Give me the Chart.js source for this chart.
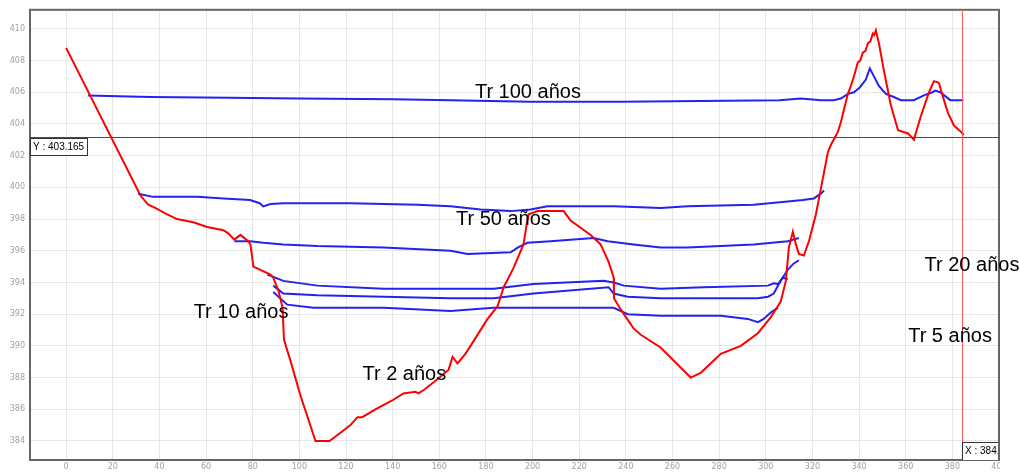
<!DOCTYPE html>
<html>
<head>
<meta charset="utf-8">
<script src="https://cdn.jsdelivr.net/npm/chart.js@4/dist/chart.umd.min.js"></script>
<style>
  body { margin: 0; background: #fff; }
</style>
</head>
<body>
<canvas id="perfil" width="1020" height="473"></canvas>
<script>
// terrain profile (red)
const terrenoX = [0, 31.8, 35.2, 38.2, 43.3, 47.6, 54.5, 60.5, 67.4, 69.5, 72.1, 74.7, 78.1, 79, 80.3, 87.6, 88.8, 91, 92.8, 93.4, 96.1, 100.4, 106.9, 112.9, 117.5, 121.9, 124.9, 127, 132.6, 137.8, 140.3, 144.6, 149.8, 151, 153.2, 158.4, 164, 165.7, 167.8, 171.2, 174.7, 180.7, 185, 187.6, 191.8, 196.1, 197.4, 198.3, 202.1, 213.3, 216.3, 224.9, 229.2, 232.6, 234.8, 234.9, 237.8, 243.3, 246.4, 254.9, 267.8, 272.1, 280.7, 289.3, 296.6, 302.1, 306.4, 308.6, 309.9, 311.6, 312.9, 314.2, 316.3, 318.5, 321.5, 323.6, 326.6, 328, 330.9, 332.2, 333.5, 335.2, 336.5, 338, 339.5, 340.5, 341.6, 342.7, 343.8, 344.8, 345.9, 346.5, 347.2, 348.5, 350.6, 353.6, 356.7, 361, 363.5, 366.5, 370, 372.1, 374.2, 376.4, 378.1, 380.7, 383.7, 384.9];
const terrenoY = [408.8, 399.5, 398.9, 398.7, 398.3, 398.0, 397.8, 397.5, 397.3, 397.1, 396.7, 397.0, 396.6, 396.4, 395.0, 394.5, 394.3, 393.5, 392.4, 390.4, 389.1, 386.9, 384.0, 384.0, 384.5, 385.0, 385.5, 385.5, 386.0, 386.4, 386.6, 387.0, 387.1, 387.0, 387.2, 387.8, 388.5, 389.3, 388.9, 389.5, 390.3, 391.7, 392.5, 393.7, 394.9, 396.4, 397.6, 398.3, 398.5, 398.5, 397.9, 397.0, 396.4, 395.3, 394.3, 393.0, 392.3, 391.1, 390.7, 389.9, 388.0, 388.3, 389.5, 390.0, 390.8, 391.8, 392.8, 394.1, 396.2, 397.2, 396.4, 395.8, 395.7, 396.6, 398.3, 399.9, 402.2, 402.7, 403.5, 404.1, 404.9, 405.9, 406.4, 407.1, 407.9, 408.0, 408.5, 408.6, 409.1, 409.2, 409.7, 409.6, 409.9, 409.1, 407.4, 405.2, 403.6, 403.4, 403.0, 404.5, 406.0, 406.7, 406.6, 405.5, 404.7, 403.9, 403.5, 403.3];

// water levels per return period (blue)
const tr100X = [9.4, 36, 70, 100, 140, 165, 199, 238, 272, 306, 315, 323.6, 329.1, 332.2, 335.2, 337.8, 340.3, 342.9, 344.6, 346.4, 348.5, 351.5, 354.9, 357.9, 363.5, 367.8, 371.5, 372.7, 374.8, 379.1, 384.7];
const tr100Y = [405.8, 405.7, 405.65, 405.6, 405.55, 405.5, 405.4, 405.4, 405.45, 405.5, 405.6, 405.5, 405.5, 405.6, 405.9, 406.0, 406.3, 406.8, 407.5, 407.0, 406.4, 405.9, 405.7, 405.5, 405.5, 405.8, 406.0, 406.1, 406.0, 405.5, 405.5];

const tr50X = [30.9, 37.3, 56.2, 67.4, 78.9, 83, 84.5, 87.6, 93.1, 113.3, 121.9, 150.6, 164.8, 177.7, 190.6, 199.1, 206.4, 215, 234.8, 254.9, 266.5, 294.8, 309.4, 315.9, 320.6, 323.6, 325];
const tr50Y = [399.6, 399.4, 399.4, 399.3, 399.2, 399.0, 398.8, 398.95, 399.0, 399.0, 399.0, 398.9, 398.8, 398.6, 398.5, 398.6, 398.8, 398.8, 398.8, 398.7, 398.8, 398.9, 399.1, 399.2, 399.3, 399.6, 399.8];

const tr20X = [72.1, 78.9, 84.5, 93.1, 107.7, 136.1, 164.8, 172.1, 190.6, 193.6, 197.8, 207.7, 226.2, 232.2, 243.3, 254.9, 266.5, 294.8, 309.4, 314.2];
const tr20Y = [396.6, 396.6, 396.5, 396.4, 396.3, 396.2, 396.0, 395.8, 395.9, 396.2, 396.5, 396.6, 396.8, 396.6, 396.4, 396.2, 396.2, 396.4, 396.6, 396.8];

const tr10X = [86.3, 93.1, 107.7, 136.1, 164.8, 183.3, 200.4, 230.5, 234.8, 239.1, 254.9, 273.4, 300.9, 303.4, 305.2, 307.3, 309.4];
const tr10Y = [394.5, 394.1, 393.8, 393.6, 393.6, 393.6, 393.9, 394.1, 394.0, 393.8, 393.6, 393.7, 393.8, 393.95, 393.9, 394.3, 394.2];

const tr5X = [88.8, 93.1, 107.7, 136.1, 164.8, 183.3, 200.4, 232.6, 234.8, 240.8, 254.9, 296.6, 301, 303.4, 306.4, 309.4, 312, 314.2];
const tr5Y = [393.8, 393.3, 393.2, 393.1, 393.0, 393.0, 393.3, 393.7, 393.3, 393.1, 393.0, 393.0, 393.1, 393.3, 394.1, 394.8, 395.2, 395.4];

const tr2X = [88.8, 94.8, 106, 136.1, 164.8, 183.3, 234.8, 240.8, 254.9, 280.7, 292.3, 296.6, 299.1, 302.1, 305.2];
const tr2Y = [393.4, 392.6, 392.4, 392.4, 392.2, 392.4, 392.4, 392.0, 391.9, 391.9, 391.7, 391.5, 391.7, 392.1, 392.4];

const xTicks = [0, 20, 40, 60, 80, 100, 120, 140, 160, 180, 200, 220, 240, 260, 280, 300, 320, 340, 360, 380, 400];
const yTicks = [384, 386, 388, 390, 392, 394, 396, 398, 400, 402, 404, 406, 408, 410];

// cursor readout
const cursorX = 384.3;
const cursorY = 403.165;

const pts = (xs, ys) => xs.map((x, i) => ({ x: x, y: ys[i] }));

const blue = '#2222f2';
const serie = (label, xs, ys, color) => ({
  label: label,
  data: pts(xs, ys),
  borderColor: color,
  borderWidth: 2,
  pointRadius: 0,
  tension: 0,
  fill: false
});

// draws frame, cursor lines and the Tr labels
const overlay = {
  id: 'overlay',
  afterDraw(chart) {
    const ctx = chart.ctx;
    const a = chart.chartArea;
    const xs = chart.scales.x, ys = chart.scales.y;
    const cx = Math.round(xs.getPixelForValue(cursorX));
    const cy = Math.round(ys.getPixelForValue(cursorY));

    ctx.save();
    // original plot was cut at its right edge
    ctx.fillStyle = '#ffffff';
    ctx.fillRect(a.right + 1, a.bottom + 1, chart.width - a.right, chart.height - a.bottom);

    // frame
    ctx.strokeStyle = '#666666';
    ctx.lineWidth = 2;
    ctx.strokeRect(a.left, a.top, a.right - a.left, a.bottom - a.top);

    // cursor lines
    ctx.fillStyle = '#ff0000';
    ctx.fillRect(a.left, cy, a.right - a.left, 1);
    ctx.fillStyle = '#ff5a5a';
    ctx.fillRect(cx, a.top, 1, a.bottom - a.top);

    // readout boxes
    ctx.lineWidth = 1;
    ctx.font = '10px "Liberation Sans"';
    ctx.textBaseline = 'middle';
    ctx.textAlign = 'left';
    ctx.fillStyle = '#ffffff';
    ctx.fillRect(a.left, cy + 1, 57, 18);
    ctx.strokeStyle = '#333333';
    ctx.strokeRect(a.left + 0.5, cy + 1.5, 57, 17);
    ctx.fillStyle = '#000000';
    ctx.fillText('Y : ' + cursorY.toFixed(3), a.left + 3, cy + 10.5);

    ctx.save();
    ctx.beginPath();
    ctx.rect(cx - 1, a.bottom - 19, a.right - cx, 19);
    ctx.clip();
    ctx.fillStyle = '#ffffff';
    ctx.fillRect(cx, a.bottom - 18, 60, 18);
    ctx.strokeStyle = '#333333';
    ctx.strokeRect(cx + 0.5, a.bottom - 17.5, 60, 18);
    ctx.fillStyle = '#000000';
    ctx.fillText('X : ' + cursorX.toFixed(3), cx + 3, a.bottom - 8.5);
    ctx.restore();

    // return period labels
    const marks = [
      ['Tr 100 años', 198, 406.0],
      ['Tr 50 años', 187.5, 398.0],
      ['Tr 20 años', 388.4, 395.1],
      ['Tr 10 años', 75, 392.1],
      ['Tr 5 años', 379, 390.6],
      ['Tr 2 años', 145, 388.2]
    ];
    ctx.font = '20px "Liberation Sans", Arial, sans-serif';
    ctx.textAlign = 'center';
    ctx.fillStyle = '#000000';
    marks.forEach(m => {
      ctx.fillText(m[0], xs.getPixelForValue(m[1]), ys.getPixelForValue(m[2]));
    });
    ctx.restore();
  }
};

new Chart(document.getElementById('perfil'), {
  type: 'line',
  data: {
    datasets: [
      serie('Terreno', terrenoX, terrenoY, '#ff0000'),
      serie('Tr 100 años', tr100X, tr100Y, blue),
      serie('Tr 50 años', tr50X, tr50Y, blue),
      serie('Tr 20 años', tr20X, tr20Y, blue),
      serie('Tr 10 años', tr10X, tr10Y, blue),
      serie('Tr 5 años', tr5X, tr5Y, blue),
      serie('Tr 2 años', tr2X, tr2Y, blue)
    ]
  },
  options: {
    responsive: false,
    animation: false,
    layout: { padding: { top: 7, right: 21, left: 0, bottom: 0 } },
    plugins: {
      legend: { display: false },
      tooltip: { enabled: false }
    },
    scales: {
      x: {
        type: 'linear',
        min: -15.5,
        max: 400,
        afterBuildTicks: s => { s.ticks = xTicks.map(v => ({ value: v })); },
        afterFit: s => { s.height = 13; },
        grid: { color: '#e6e6e6', drawTicks: false },
        border: { display: false },
        ticks: {
          color: '#a0a0a0',
          font: { family: 'DejaVu Sans', size: 8 },
          padding: 2,
          maxRotation: 0,
          autoSkip: false
        }
      },
      y: {
        min: 382.8,
        max: 411.2,
        afterBuildTicks: s => { s.ticks = yTicks.map(v => ({ value: v })); },
        afterFit: s => { s.width = 30; },
        grid: { color: '#e6e6e6', drawTicks: false },
        border: { display: false },
        ticks: {
          color: '#a0a0a0',
          font: { family: 'DejaVu Sans', size: 8 },
          padding: 5
        }
      }
    }
  },
  plugins: [overlay]
});
</script>
</body>
</html>
